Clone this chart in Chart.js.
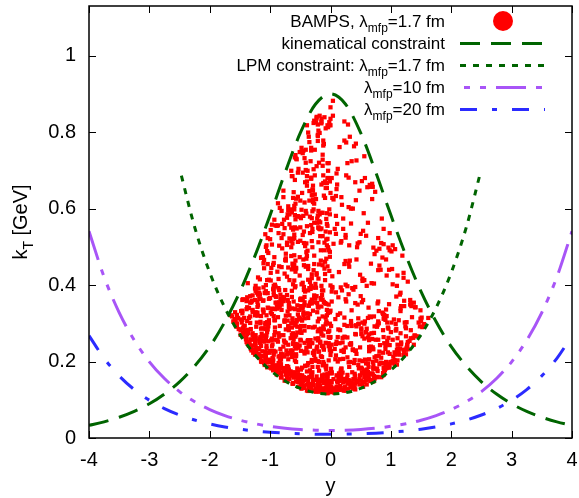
<!DOCTYPE html>
<html>
<head>
<meta charset="utf-8">
<title>kT vs y</title>
<script src="https://cdn.jsdelivr.net/npm/chart.js@4.4.1/dist/chart.umd.min.js"></script>
<style>
  html, body { margin: 0; padding: 0; background: #fff; }
</style>
</head>
<body>
<canvas id="ktChart" width="579" height="498"></canvas>
<script>
// rapidity grid for the analytic curves
const yGrid = [-4, -3.75, -3.5, -3.25, -3, -2.75, -2.5, -2.25, -2, -1.75, -1.5, -1.25, -1, -0.75, -0.5, -0.25,
  0, 0.25, 0.5, 0.75, 1, 1.25, 1.5, 1.75, 2, 2.25, 2.5, 2.75, 3, 3.25, 3.5, 3.75, 4];
const kinematic = [.033, .0423, .0543, .0697, .0894, .115, .147, .188, .239, .304, .383, .477, .583, .695, .798, .873,
  .9, .873, .798, .695, .583, .477, .383, .304, .239, .188, .147, .115, .0894, .0697, .0543, .0423, .033];
const lambda10 = [.5407, .4212, .3281, .2557, .1993, .1555, .1214, .095, .0745, .0587, .0466, .0374, .0306, .0256, .0223, .0204,
  .0198, .0204, .0223, .0256, .0306, .0374, .0466, .0587, .0745, .095, .1214, .1555, .1993, .2557, .3281, .4212, .5407];
const lambda20 = [.2676, .2085, .1624, .1266, .0987, .077, .0601, .047, .0369, .029, .0231, .0185, .0151, .0127, .0111, .0101,
  .0098, .0101, .0111, .0127, .0151, .0185, .0231, .029, .0369, .047, .0601, .077, .0987, .1266, .1624, .2085, .2676];

// LPM constraint for lambda_mfp = 1.7 fm (only drawn up to |y| ~ 2.5)
const lpmY = [-2.47, -2.25, -2, -1.75, -1.5, -1.25, -1, -0.75, -0.5, -0.25, 0, 0.25, 0.5, 0.75, 1, 1.25, 1.5, 1.75, 2, 2.25, 2.47];
const lpmKt = [.686, .5516, .4327, .3409, .2705, .2172, .1775, .1489, .1297, .1186, .115, .1186, .1297, .1489, .1775, .2172,
  .2705, .3409, .4327, .5516, .686];

// BAMPS emissions: [y, kT in MeV], grouped in rapidity slices of width 0.1
const bampsPoints = [
  [-.01,135],[-.05,161],[-.06,141],[-.05,159],[-.07,161],[-.02,134],[-.04,146],[-.06,136],[-.04,119],[-.08,124],
  [-.03,248],[-.02,244],[-.05,167],[-.08,249],[-.01,262],[-.01,234],[-.03,264],[-.03,240],[-.01,170],[-.08,185],
  [-.09,413],[-.09,353],[-.05,449],[-.03,279],[-.08,297],[-.04,277],[-.02,437],[-.02,281],[-.09,461],[-.06,321],[0,333],[-.08,315],[-.03,349],[-.01,299],[0,399],[-.09,429],
  [-.01,671],[0,835],[-.05,521],[-.02,818],[-.03,491],[-.06,667],[0,865],[-.08,654],[-.06,504],[-.05,680],[-.05,818],[-.02,598],[-.07,573],[-.03,719],[-.04,499],[-.01,585],[-.04,813],[-.01,538],[-.04,680],[-.02,826],[-.01,474],[-.07,469],[-.09,628],[-.05,555],[-.01,487],[-.05,719],[-.06,654],[-.06,560],[-.09,671],

  [-.19,143],[-.19,131],[-.13,156],[-.19,148],[-.14,130],[-.18,121],[-.19,153],[-.16,148],
  [-.19,199],[-.14,212],[-.11,194],[-.14,241],[-.16,214],[-.12,199],[-.17,252],[-.17,249],[-.11,231],[-.12,237],
  [-.12,268],[-.19,284],[-.11,356],[-.16,362],[-.15,398],[-.19,312],[-.14,386],[-.13,362],[-.16,286],[-.14,374],[-.13,318],[-.16,366],[-.12,292],[-.13,452],[-.16,280],[-.12,386],
  [-.12,667],[-.11,634],[-.12,765],[-.17,564],[-.15,823],[-.10,491],[-.16,491],[-.13,528],[-.15,827],[-.11,769],[-.18,798],[-.15,548],[-.19,548],[-.19,720],[-.18,585],[-.12,687],[-.10,839],[-.17,528],[-.13,728],[-.13,741],[-.18,843],[-.15,835],[-.13,712],[-.10,511],[-.13,589],[-.15,589],[-.15,663],[-.18,548],

  [-.24,152],[-.25,129],[-.23,161],[-.21,142],[-.29,144],[-.29,139],[-.25,124],[-.26,123],
  [-.24,202],[-.20,226],[-.22,239],[-.23,234],[-.27,228],[-.25,260],[-.29,222],[-.20,261],[-.21,255],[-.21,186],
  [-.23,431],[-.29,333],[-.26,291],[-.27,455],[-.21,279],[-.21,305],[-.25,365],[-.20,417],[-.24,393],[-.23,427],[-.29,393],[-.27,367],[-.25,403],[-.23,371],[-.28,439],[-.27,373],
  [-.27,563],[-.28,824],[-.22,574],[-.29,617],[-.21,793],[-.20,512],[-.29,660],[-.21,582],[-.28,598],[-.26,754],[-.23,711],[-.24,625],[-.26,687],[-.26,637],[-.20,804],[-.20,551],[-.23,836],[-.29,648],[-.23,840],[-.22,563],[-.27,613],[-.21,820],[-.27,477],[-.21,777],[-.28,703],[-.29,637],

  [-.37,123],[-.37,157],[-.35,141],[-.32,130],[-.31,160],[-.32,168],[-.31,163],[-.37,148],
  [-.33,256],[-.36,246],[-.38,190],[-.34,239],[-.36,241],[-.34,177],[-.31,204],[-.30,172],[-.35,240],[-.31,199],
  [-.31,362],[-.32,398],[-.35,392],[-.38,326],[-.37,442],[-.37,414],[-.33,356],[-.37,386],[-.37,450],[-.36,290],[-.31,418],[-.36,346],[-.31,428],[-.37,314],[-.34,408],[-.34,352],
  [-.39,476],[-.32,557],[-.39,660],[-.34,579],[-.31,635],[-.35,646],[-.35,774],[-.33,724],[-.30,650],[-.37,799],[-.32,752],[-.36,788],[-.32,678],[-.39,554],[-.35,621],[-.30,539],[-.39,671],[-.31,515],[-.31,575],[-.30,547],[-.39,685],[-.38,699],[-.30,593],[-.34,536],

  [-.41,156],[-.48,133],[-.46,141],[-.47,164],[-.47,162],[-.43,131],[-.49,157],[-.45,136],
  [-.47,184],[-.42,188],[-.43,226],[-.49,276],[-.48,275],[-.43,249],[-.49,255],[-.40,226],[-.49,228],[-.40,236],
  [-.47,339],[-.46,341],[-.48,309],[-.40,469],[-.43,313],[-.45,467],[-.40,325],[-.44,395],[-.44,387],[-.43,369],[-.49,293],[-.43,281],[-.46,361],[-.45,321],[-.43,293],[-.42,383],
  [-.43,616],[-.46,745],[-.40,587],[-.42,669],[-.49,575],[-.41,754],[-.41,701],[-.40,509],[-.40,486],[-.41,594],[-.48,597],[-.47,641],[-.48,748],[-.45,751],[-.45,581],[-.42,502],[-.43,732],[-.44,540],[-.46,531],[-.41,720],[-.46,694],

  [-.51,156],[-.53,134],[-.55,182],[-.52,159],[-.54,178],[-.54,147],[-.57,160],[-.54,167],
  [-.57,214],[-.51,242],[-.55,245],[-.58,246],[-.58,265],[-.53,236],[-.57,270],[-.55,276],[-.57,234],[-.59,240],
  [-.57,445],[-.58,397],[-.57,443],[-.55,347],[-.51,425],[-.52,335],[-.58,295],[-.56,309],[-.50,285],[-.59,337],[-.58,435],[-.56,305],[-.51,473],[-.59,301],[-.52,315],[-.54,323],
  [-.51,748],[-.54,513],[-.59,551],[-.55,580],[-.58,740],[-.59,583],[-.53,704],[-.56,548],[-.54,580],[-.58,572],[-.57,731],[-.50,551],[-.58,613],[-.59,675],[-.56,729],[-.59,734],[-.57,626],[-.50,621],

  [-.62,142],[-.67,166],[-.64,163],[-.69,155],[-.60,172],[-.61,171],[-.60,168],[-.68,174],
  [-.60,268],[-.69,282],[-.62,274],[-.63,229],[-.62,246],[-.64,212],[-.61,258],[-.66,261],[-.68,222],[-.64,270],
  [-.68,413],[-.61,357],[-.68,337],[-.60,412],[-.64,441],[-.69,353],[-.64,385],[-.60,478],[-.65,300],[-.68,343],[-.63,313],[-.62,402],[-.65,476],[-.60,454],[-.62,450],[-.68,321],
  [-.61,643],[-.65,499],[-.68,585],[-.60,532],[-.60,523],[-.63,685],[-.62,521],[-.60,598],[-.65,699],[-.64,590],[-.62,545],[-.64,685],[-.65,598],[-.63,509],[-.68,522],

  [-.76,174],[-.72,188],[-.71,149],[-.77,180],[-.76,178],[-.73,166],[-.74,180],[-.72,186],
  [-.77,255],[-.74,284],[-.73,229],[-.78,269],[-.78,239],[-.76,251],[-.77,213],[-.70,206],[-.70,293],[-.74,249],
  [-.74,470],[-.76,430],[-.72,374],[-.76,308],[-.74,464],[-.71,307],[-.75,387],[-.72,422],[-.75,466],[-.71,359],[-.79,369],[-.70,446],[-.76,304],[-.74,482],[-.74,320],[-.77,365],
  [-.72,576],[-.78,630],[-.70,596],[-.70,606],[-.71,585],[-.78,647],[-.77,571],[-.78,533],[-.72,505],[-.72,511],[-.76,549],

  [-.82,205],[-.85,180],[-.89,169],[-.81,183],[-.86,181],[-.86,196],[-.89,178],[-.89,166],
  [-.86,213],[-.81,215],[-.83,210],[-.84,214],[-.84,293],[-.82,214],[-.86,274],[-.82,221],[-.88,256],[-.84,269],
  [-.85,347],[-.84,346],[-.81,335],[-.80,496],[-.83,375],[-.85,449],[-.87,316],[-.86,416],[-.85,503],[-.89,344],[-.85,387],[-.89,354],[-.88,435],[-.81,447],[-.88,339],[-.83,365],
  [-.81,523],[-.89,555],[-.80,560],[-.81,594],[-.84,602],[-.87,556],[-.86,536],[-.87,614],

  [-.96,186],[-.94,218],[-.96,209],[-.95,177],[-.98,204],[-.95,184],[-.92,190],[-.99,185],
  [-.92,289],[-.93,308],[-.98,256],[-.91,226],[-.94,319],[-.92,308],[-.93,257],[-.97,260],[-.96,245],[-.94,224],
  [-.95,453],[-.94,392],[-.98,445],[-.92,337],[-.99,412],[-.94,458],[-.99,432],[-.92,401],[-.93,473],[-.99,328],[-.90,369],[-.97,506],[-.96,338],[-.94,398],[-.91,371],[-.97,338],
  [-.93,571],[-.91,556],[-.97,558],[-.99,544],

  [-1.07,218],[-1.05,198],[-1.08,210],[-1.07,211],[-1.01,223],[-1.06,223],[-1.06,234],[-1.00,205],
  [-1.03,253],[-1.00,228],[-1.06,321],[-1.02,301],[-1.04,284],[-1.06,268],[-1.06,241],[-1.02,308],[-1.08,296],[-1.07,255],
  [-1.04,379],[-1.05,489],[-1.08,533],[-1.00,520],[-1.07,400],[-1.03,484],[-1.07,500],[-1.02,364],[-1.06,504],[-1.04,341],[-1.00,366],[-1.02,414],[-1.05,413],[-1.03,340],[-1.04,455],[-1.04,523],

  [-1.18,232],[-1.17,209],[-1.15,200],[-1.19,220],[-1.17,249],[-1.18,253],[-1.15,241],[-1.12,214],
  [-1.14,273],[-1.11,334],[-1.15,319],[-1.11,265],[-1.12,336],[-1.12,255],[-1.16,261],[-1.16,300],[-1.13,287],[-1.11,328],
  [-1.15,471],[-1.11,394],[-1.12,473],[-1.17,415],[-1.17,375],[-1.10,466],[-1.16,364],[-1.11,457],[-1.10,444],[-1.11,360],[-1.14,472],

  [-1.29,274],[-1.29,269],[-1.27,232],[-1.27,265],[-1.24,261],[-1.25,226],[-1.25,262],[-1.23,222],
  [-1.23,291],[-1.21,328],[-1.29,335],[-1.21,343],[-1.29,330],[-1.22,302],[-1.25,361],[-1.25,321],[-1.24,329],[-1.20,347],
  [-1.20,375],[-1.24,385],[-1.22,380],[-1.20,420],[-1.25,391],[-1.24,398],

  [-1.38,271],[-1.33,258],[-1.36,245],[-1.33,242],[-1.38,283],[-1.37,246],[-1.31,229],[-1.30,242],
  [-1.33,354],[-1.33,371],[-1.35,314],[-1.38,361],[-1.38,368],[-1.33,318],[-1.30,359],[-1.38,306],[-1.32,285],[-1.31,355],[-1.37,405],

  [-1.46,309],[-1.44,292],[-1.40,263],[-1.49,310],[-1.45,275],[-1.49,270],[-1.42,294],[-1.45,287],
  [-1.46,361],[-1.43,314],[-1.45,363],[-1.46,326],[-1.46,333],[-1.48,332],

  [-1.55,299],[-1.58,329],[-1.59,311],[-1.55,291],[-1.55,322],[-1.58,299],[-1.52,285],[-1.57,304],[-1.53,314],
  [-1.61,305],[-1.63,318],[-1.65,321],

  [.05,154],[.08,118],[.03,127],[.07,120],[.02,146],[0,149],[.01,133],[0,120],
  [.02,244],[.07,233],[.01,181],[.09,216],[0,264],[.01,227],[.02,169],[.09,246],
  [.01,293],[.02,383],[.03,395],[.09,381],[.03,423],[.08,311],[.02,357],[.03,393],
  [.03,628],[.09,581],[.02,680],[.04,843],[.07,547],[.09,534],[.09,633],[.05,624],[.05,508],[0,818],[.04,882],

  [.14,163],[.12,145],[.17,131],[.16,156],[.16,136],[.16,130],[.18,126],[.18,165],
  [.18,228],[.14,169],[.15,248],[.12,200],[.17,177],[.17,172],[.12,264],[.18,180],
  [.16,282],[.13,368],[.12,322],[.16,326],[.17,394],[.13,284],[.14,434],[.19,386],
  [.10,692],[.12,704],[.11,560],[.15,761],[.19,610],[.18,630],[.18,515],[.11,663],[.17,511],[.10,651],

  [.24,133],[.22,124],[.21,154],[.28,165],[.21,145],[.25,124],[.29,146],[.24,151],
  [.22,231],[.28,263],[.24,264],[.20,262],[.21,207],[.23,265],[.28,211],[.20,250],
  [.25,463],[.25,401],[.23,455],[.26,357],[.28,293],[.25,363],[.28,397],[.23,315],
  [.26,773],[.23,778],[.25,531],[.21,574],[.21,547],[.29,820],[.25,524],[.28,719],[.26,687],[.23,828],

  [.30,145],[.38,139],[.30,152],[.34,144],[.36,138],[.38,154],[.33,132],[.33,141],
  [.37,232],[.30,198],[.39,196],[.31,186],[.33,199],[.34,244],[.37,230],[.36,172],
  [.36,392],[.35,334],[.38,388],[.34,306],[.31,448],[.30,376],[.30,456],[.32,464],
  [.39,763],[.34,561],[.31,504],[.35,724],[.34,600],[.37,600],[.32,788],[.30,681],[.30,604],

  [.41,127],[.40,143],[.40,153],[.48,154],[.40,168],[.46,150],[.41,153],[.44,146],
  [.46,191],[.41,272],[.42,271],[.41,228],[.49,237],[.43,220],[.47,182],[.40,204],
  [.45,349],[.49,427],[.41,395],[.43,467],[.42,295],[.46,313],[.47,299],[.41,353],
  [.42,770],[.41,669],[.43,726],[.45,509],[.48,512],[.48,647],[.44,499],[.42,622],

  [.59,151],[.52,181],[.59,170],[.57,161],[.51,150],[.55,177],[.52,170],[.54,169],
  [.51,272],[.57,205],[.58,276],[.53,201],[.51,184],[.59,277],[.59,195],[.53,266],
  [.53,417],[.52,355],[.50,371],[.56,413],[.53,411],[.56,299],[.51,287],[.54,361],
  [.56,737],[.55,588],[.54,542],[.57,680],[.50,534],[.52,672],[.59,529],

  [.60,179],[.63,186],[.62,173],[.60,174],[.69,169],[.67,152],[.66,149],[.63,153],
  [.64,206],[.62,263],[.64,227],[.64,256],[.68,274],[.67,238],[.69,259],[.65,230],
  [.62,314],[.60,286],[.68,405],[.67,316],[.65,318],[.63,341],[.60,398],[.67,456],
  [.65,662],[.61,656],[.62,563],[.67,657],[.69,665],[.69,625],

  [.73,155],[.77,182],[.78,160],[.71,181],[.78,175],[.70,166],[.71,190],[.74,159],
  [.73,292],[.70,237],[.76,214],[.79,257],[.75,257],[.71,232],[.70,199],[.72,275],
  [.79,357],[.79,439],[.78,352],[.73,481],[.72,404],[.79,305],[.76,490],[.72,318],
  [.79,523],[.71,498],[.70,657],[.74,644],

  [.84,159],[.88,183],[.89,171],[.83,197],[.89,195],[.84,196],[.81,193],[.89,179],
  [.80,300],[.88,264],[.87,282],[.81,226],[.89,248],[.89,313],[.88,312],[.82,243],
  [.88,507],[.89,322],[.81,495],[.87,324],[.81,451],[.83,440],[.86,472],[.86,328],
  [.88,547],[.85,574],[.84,510],

  [.99,198],[.95,193],[.96,189],[.98,220],[.92,182],[.92,199],[.93,193],[.98,190],
  [.93,244],[.94,254],[.95,289],[.95,224],[.91,242],[.91,309],[.98,243],[.91,233],
  [.90,317],[.93,319],[.97,350],[.98,491],[.92,467],[.96,498],[.97,440],[.93,425],
  [.98,536],

  [1.01,198],[1.00,199],[1.07,218],[1.07,196],[1.09,223],[1.06,194],[1.03,197],
  [1.08,298],[1.03,257],[1.00,277],[1.08,281],[1.05,310],[1.09,285],[1.01,302],
  [1.09,370],[1.02,442],[1.03,504],[1.01,488],[1.03,402],[1.07,494],

  [1.13,226],[1.11,231],[1.17,250],[1.12,233],[1.17,245],[1.10,231],[1.12,221],
  [1.11,261],[1.16,274],[1.16,332],[1.13,308],[1.11,244],[1.17,345],[1.16,339],
  [1.11,425],[1.15,375],[1.19,477],[1.16,380],[1.10,398],

  [1.28,232],[1.21,217],[1.25,231],[1.26,236],[1.25,266],[1.27,240],
  [1.22,345],[1.24,292],[1.26,303],[1.23,302],[1.22,359],[1.25,287],
  [1.28,409],[1.21,419],[1.21,432],

  [1.33,282],[1.33,261],[1.31,254],[1.38,244],[1.39,268],[1.37,262],
  [1.35,316],[1.33,353],[1.38,354],[1.34,345],[1.32,349],[1.32,361],

  [1.49,312],[1.46,302],[1.40,268],[1.48,292],[1.43,266],[1.41,342],[1.40,342],[1.49,334],
  [1.51,315],[1.50,305],[1.55,298],[1.52,290],
  [1.62,314],

  // emissions packed just above the LPM boundary
  [-.03,139],[-.06,144],[0,130],[-.08,132],[-.06,151],[-.05,117],[-.05,126],
  [-.12,121],[-.17,136],[-.13,154],[-.14,148],[-.11,148],[-.14,123],[-.11,144],
  [-.24,121],[-.22,138],[-.21,127],[-.27,123],[-.29,152],[-.25,123],[-.21,139],
  [-.35,160],[-.36,139],[-.36,130],[-.39,155],[-.39,140],[-.39,124],[-.33,129],
  [-.49,145],[-.44,159],[-.48,129],[-.49,149],[-.46,149],[-.49,140],[-.44,152],
  [-.51,165],[-.54,155],[-.56,166],[-.52,146],[-.57,160],[-.57,148],[-.51,155],
  [-.62,144],[-.63,142],[-.69,179],[-.61,158],[-.66,174],[-.65,166],[-.68,155],
  [-.74,150],[-.73,180],[-.76,150],[-.74,166],[-.73,171],[-.76,183],[-.72,158],
  [-.83,172],[-.86,188],[-.82,158],[-.82,193],[-.81,160],[-.82,170],[-.87,178],
  [-.95,202],[-.90,189],[-.96,196],[-.93,189],[-.95,206],[-.91,184],[-.98,182],
  [-1.05,185],[-1.09,191],[-1.09,200],[-1.08,225],[-1.02,198],[-1.00,185],[-1.07,208],
  [-1.13,215],[-1.13,227],[-1.18,216],[-1.15,203],[-1.13,199],[-1.10,196],[-1.14,199],
  [-1.25,218],[-1.25,250],[-1.28,223],[-1.24,242],[-1.25,221],[-1.23,233],[-1.21,235],
  [-1.39,251],[-1.38,250],[-1.35,241],[-1.36,275],[-1.34,248],[-1.30,257],[-1.32,233],
  [-1.43,276],[-1.47,302],[-1.45,266],[-1.49,282],[-1.40,258],[-1.41,277],[-1.42,280],
  [.03,122],[.09,124],[.06,119],[.07,130],[.01,135],
  [.11,148],[.15,149],[.10,134],[.14,126],[.13,154],
  [.29,129],[.27,156],[.25,149],[.23,125],[.28,142],
  [.37,132],[.37,138],[.38,129],[.32,150],[.39,155],
  [.41,142],[.40,131],[.49,164],[.41,163],[.48,140],
  [.56,147],[.53,143],[.54,134],[.56,159],[.56,146],
  [.60,163],[.60,140],[.63,158],[.69,168],[.63,162],
  [.72,162],[.77,180],[.71,148],[.77,159],[.71,183],
  [.88,165],[.89,177],[.87,170],[.87,164],[.85,196],
  [.92,195],[.91,192],[.94,184],[.90,178],[.97,184],
  [1.03,201],[1.06,204],[1.08,221],[1.04,213],[1.06,224],
  [1.14,218],[1.11,203],[1.10,192],[1.15,234],[1.11,222],
  [1.21,231],[1.22,226],[1.25,219],[1.28,251],[1.27,244],

  // the crowded band at negative rapidity, 0.2 - 0.4 GeV
  [-.07,189],[-.03,203],[-.07,305],[-.07,351],[-.06,335],[-.01,229],[-.06,301],[-.01,329],[-.07,179],[-.04,327],
  [-.14,164],[-.19,176],[-.12,240],[-.19,226],[-.14,162],[-.11,284],[-.15,344],[-.15,272],[-.13,190],[-.10,166],
  [-.27,217],[-.22,353],[-.26,355],[-.22,329],[-.29,223],[-.25,207],[-.20,341],[-.29,289],[-.21,201],[-.21,343],
  [-.30,186],[-.39,174],[-.38,254],[-.30,248],[-.34,324],[-.31,352],[-.38,224],[-.36,346],[-.37,256],[-.37,196],
  [-.43,347],[-.49,179],[-.45,329],[-.47,307],[-.42,189],[-.43,355],[-.49,365],[-.49,345],[-.43,221],[-.49,341],
  [-.50,361],[-.59,203],[-.50,363],[-.57,199],[-.57,219],[-.58,295],[-.50,311],[-.53,335],[-.55,291],[-.50,257],
  [-.64,369],[-.64,289],[-.63,307],[-.69,343],[-.63,219],[-.66,229],[-.65,224],[-.63,339],[-.62,248],[-.63,267],
  [-.76,306],[-.70,290],[-.72,218],[-.79,219],[-.71,361],[-.71,221],[-.70,186],[-.70,244],[-.71,331],[-.78,358],
  [-.87,252],[-.88,339],[-.85,355],[-.85,265],[-.82,356],[-.83,233],[-.84,202],[-.86,342],[-.81,349],[-.86,392],
  [-.91,354],[-.93,269],[-.95,389],[-.92,277],[-.94,228],[-.94,374],[-.97,324],[-.94,382],[-.97,240],[-.91,396],
  [-1.05,277],[-1.08,301],[-1.08,285],[-1.03,292],[-1.07,384],[-1.05,303],[-1.07,258],[-1.09,380],[-1.07,264],[-1.08,379],
  [-1.17,259],[-1.15,286],[-1.11,268],[-1.12,359],[-1.18,365],[-1.16,304],[-1.10,252],[-1.19,391],[-1.18,379],[-1.16,264],
  [-1.21,320],[-1.29,373],[-1.22,325],[-1.24,258],[-1.21,356],[-1.24,269],
  [-1.39,337],[-1.35,340],[-1.38,342],[-1.39,358],[-1.33,301],
  [-.06,588],[-.04,699],[-.08,540],[-.07,519],[0,641],[-.08,810],
  [-.19,454],[-.16,464],[-.19,567],[-.17,546],[-.10,443],[-.12,778],
  [-.27,830],[-.24,826],[-.29,624],[-.20,550],[-.21,790],[-.20,594],
  [-.38,490],[-.30,499],[-.39,818],[-.32,681],[-.33,390],[-.32,759],
  [-.44,510],[-.41,448],[-.46,406],[-.48,759],[-.44,452],[-.48,402],
  [-.51,579],[-.58,464],[-.50,516],[-.54,631],[-.59,394],[-.54,694],
  [-.60,607],[-.65,550],[-.68,559],[-.63,456],[-.62,628],[-.65,515],
  [0,217],[.02,172],[.08,206],[.01,170],
  [.15,206],[.18,182],[.10,164],[.10,252],
  [.23,296],[.22,225],[.20,171],[.25,237],
  [.34,248],[.32,245],[.34,299],[.35,293],
  [.43,292],[.48,203],[.46,298],[.42,229],
  [.51,283],[.57,305],[.56,260],[.53,302],
  [.64,238],[.62,195],[.67,239],[.64,271],
  [.73,211],[.78,296],[.77,291],[.76,202],
  [.87,223],[.80,215],[.80,332],[.84,210],
  [.94,302],[.96,286],[.92,336],[.96,262]
];

const xTicks = [-4, -3, -2, -1, 0, 1, 2, 3, 4];
const yTicks = [0, 0.2, 0.4, 0.6, 0.8, 1];
const yTickLabels = ['0', '0.2', '0.4', '0.6', '0.8', '1'];

const FONT = "'Liberation Sans', Arial, Helvetica, sans-serif";
const GREEN = '#006400', PURPLE = '#a855f7', BLUE = '#2b2bff', RED = '#ff0000';

const dashKin = [20, 11];
const dashLpm = [6, 7];
const dash10 = [30, 10, 6, 10, 6, 10];
const dash20 = [17, 15, 5, 15];

// legend rows: text pieces ([text, subscript?]) and how the sample is drawn
const legendRows = [
  { parts: [['BAMPS, λ', 0], ['mfp', 1], ['=1.7 fm', 0]], marker: true },
  { parts: [['kinematical constraint', 0]], color: GREEN, dash: dashKin },
  { parts: [['LPM constraint: λ', 0], ['mfp', 1], ['=1.7 fm', 0]], color: GREEN, dash: dashLpm },
  { parts: [['λ', 0], ['mfp', 1], ['=10 fm', 0]], color: PURPLE, dash: dash10, phase: 36 },
  { parts: [['λ', 0], ['mfp', 1], ['=20 fm', 0]], color: BLUE, dash: dash20 }
];

function toXY(xs, ys) {
  return xs.map((x, i) => ({ x: x, y: ys[i] }));
}

// draws text made of normal and subscript pieces; x is the anchor for `align`
function drawRich(ctx, parts, x, y, size, align) {
  const subSize = Math.round(size * 0.72);
  const widths = parts.map(p => {
    ctx.font = (p[1] ? subSize : size) + 'px ' + FONT;
    return ctx.measureText(p[0]).width;
  });
  const total = widths.reduce((a, b) => a + b, 0);
  let cx = align === 'right' ? x - total : align === 'center' ? x - total / 2 : x;
  ctx.textBaseline = 'alphabetic';
  ctx.textAlign = 'left';
  parts.forEach((p, i) => {
    ctx.font = (p[1] ? subSize : size) + 'px ' + FONT;
    ctx.fillText(p[0], cx, p[1] ? y + size * 0.28 : y);
    cx += widths[i];
  });
}

const framePlugin = {
  id: 'frame',
  afterDraw(chart) {
    const ctx = chart.ctx;
    const a = chart.chartArea;
    const sx = chart.scales.x, sy = chart.scales.y;
    ctx.save();

    // inward ticks on all four sides
    ctx.strokeStyle = '#000';
    ctx.lineWidth = 1;
    ctx.beginPath();
    xTicks.forEach(v => {
      const px = Math.round(sx.getPixelForValue(v)) + 0.5;
      ctx.moveTo(px, a.bottom); ctx.lineTo(px, a.bottom - 7);
      ctx.moveTo(px, a.top); ctx.lineTo(px, a.top + 7);
    });
    yTicks.forEach(v => {
      const py = Math.round(sy.getPixelForValue(v)) + 0.5;
      ctx.moveTo(a.left, py); ctx.lineTo(a.left + 7, py);
      ctx.moveTo(a.right, py); ctx.lineTo(a.right - 7, py);
    });
    ctx.stroke();

    ctx.lineWidth = 1.5;
    ctx.strokeRect(a.left, a.top, a.right - a.left, a.bottom - a.top);

    // axis titles
    ctx.fillStyle = '#000';
    drawRich(ctx, [['y', 0]], (a.left + a.right) / 2, 492, 20, 'center');
    ctx.save();
    ctx.translate(27, (a.top + a.bottom) / 2);
    ctx.rotate(-Math.PI / 2);
    drawRich(ctx, [['k', 0], ['T', 1], [' [GeV]', 0]], 0, 0, 20, 'center');
    ctx.restore();

    // legend
    const textRight = 445, lineL = 460, lineR = 545;
    legendRows.forEach((row, i) => {
      const cy = 21 + i * 22;
      ctx.fillStyle = '#000';
      drawRich(ctx, row.parts, textRight, cy + 6, 17, 'right');
      if (row.marker) {
        ctx.fillStyle = RED;
        ctx.beginPath();
        ctx.arc(503, cy, 10, 0, Math.PI * 2);
        ctx.fill();
      } else {
        ctx.strokeStyle = row.color;
        ctx.lineWidth = 3;
        ctx.setLineDash(row.dash);
        ctx.lineDashOffset = row.phase || 0;
        ctx.beginPath();
        ctx.moveTo(lineL, cy + 0.5);
        ctx.lineTo(lineR, cy + 0.5);
        ctx.stroke();
        ctx.setLineDash([]);
        ctx.lineDashOffset = 0;
      }
    });
    ctx.restore();
  }
};

function curve(label, xs, ys, color, dash) {
  return {
    type: 'line',
    label: label,
    data: toXY(xs, ys),
    borderColor: color,
    borderWidth: 3,
    borderDash: dash,
    borderCapStyle: 'butt',
    pointRadius: 0,
    cubicInterpolationMode: 'monotone',
    fill: false,
    order: 1
  };
}

// keep the plot box where the layout padding puts it
function noOverhang(s) {
  s.paddingLeft = s.paddingRight = s.paddingTop = s.paddingBottom = 0;
}

new Chart(document.getElementById('ktChart'), {
  type: 'scatter',
  data: {
    datasets: [
      {
        label: 'BAMPS',
        data: bampsPoints.map(p => ({ x: p[0], y: p[1] / 1000 })),
        backgroundColor: RED,
        borderWidth: 0,
        pointStyle: 'rect',
        pointRadius: 3,
        order: 5
      },
      curve('kinematical constraint', yGrid, kinematic, GREEN, dashKin),
      curve('LPM constraint', lpmY, lpmKt, GREEN, dashLpm),
      curve('lambda 10 fm', yGrid, lambda10, PURPLE, dash10),
      curve('lambda 20 fm', yGrid, lambda20, BLUE, dash20)
    ]
  },
  options: {
    responsive: false,
    animation: false,
    devicePixelRatio: 1,
    layout: { padding: { top: 6, right: 7, left: 0, bottom: 0 } },
    plugins: { legend: { display: false }, tooltip: { enabled: false } },
    scales: {
      x: {
        type: 'linear',
        min: -4,
        max: 4,
        afterBuildTicks: s => { s.ticks = xTicks.map(v => ({ value: v })); },
        afterFit: s => { s.height = 60; noOverhang(s); },
        grid: { display: false, drawTicks: false },
        border: { display: false },
        ticks: {
          color: '#000',
          font: { family: FONT, size: 20 },
          padding: 10,
          maxRotation: 0,
          callback: v => String(v)
        }
      },
      y: {
        type: 'linear',
        min: 0,
        max: 1.13,
        afterBuildTicks: s => { s.ticks = yTicks.map(v => ({ value: v })); },
        afterFit: s => { s.width = 89; noOverhang(s); },
        grid: { display: false, drawTicks: false },
        border: { display: false },
        ticks: {
          color: '#000',
          font: { family: FONT, size: 20 },
          padding: 13,
          callback: (v, i) => yTickLabels[i]
        }
      }
    }
  },
  plugins: [framePlugin]
});
</script>
</body>
</html>
